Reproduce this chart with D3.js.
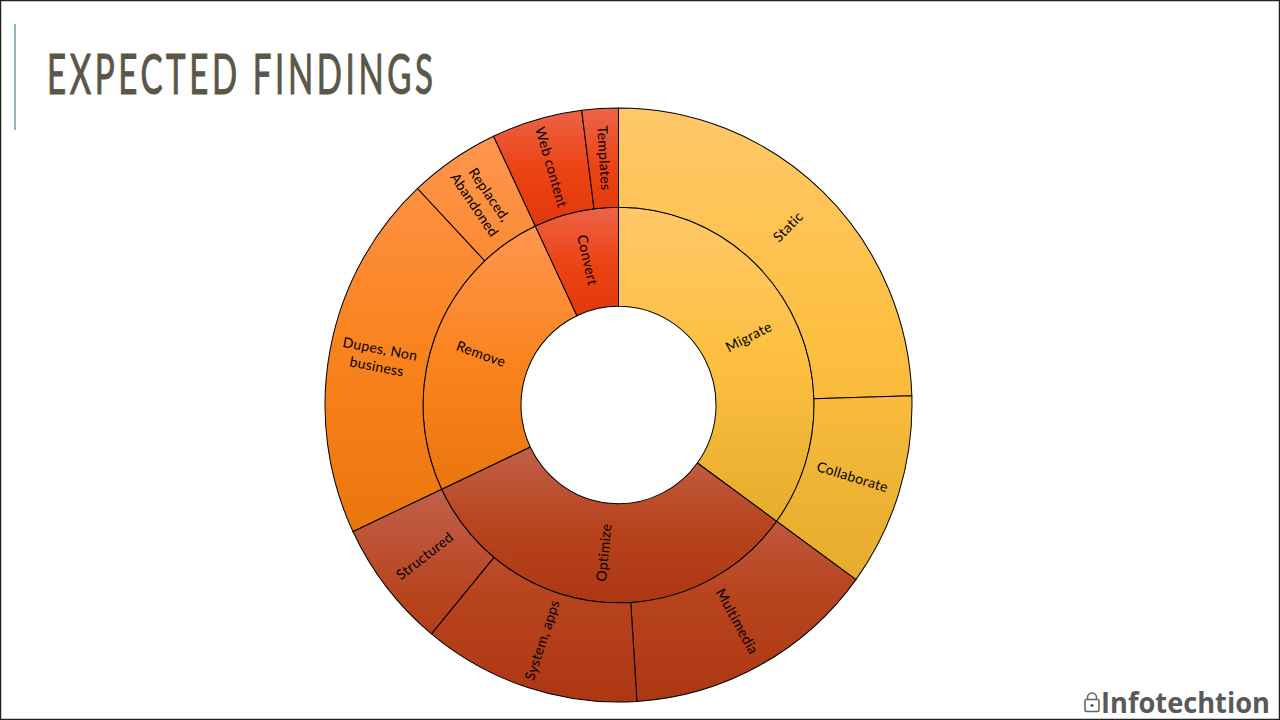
<!DOCTYPE html>
<html><head><meta charset="utf-8">
<script src="https://cdn.jsdelivr.net/npm/d3@7/dist/d3.min.js"></script>
<style>html,body{margin:0;padding:0;background:#fff;overflow:hidden}svg{display:block}</style>
</head><body><svg id="c" width="1280" height="720"></svg>
<script>
const titleText = "EXPECTED FINDINGS";
const brandText = "Infotechtion";
const groups = ["Migrate","Optimize","Remove","Convert"];
const groupPalette = [
  ["#FFC869","#FDBF3F","#E6AC2C"],
  ["#C2604A","#B8441E","#AD3713"],
  ["#FF9550","#FA8420","#EB760D"],
  ["#EC6449","#EC4415","#E2380A"]
];
const leafNames = [
  ["Static","Collaborate"],
  ["Multimedia","System, apps","Structured"],
  ["Dupes, Non\nbusiness","Replaced,\nAbandoned"],
  ["Web content","Templates"]
];
const leafValues = [
  [24.5,10.5],
  [14,12,7],
  [20,5],
  [5,2]
];
const cx=618.5, cy=405, yScale=1.012;
const radii=[97.5,195.5,293.5];

const svg=d3.select("#c");
const defs=svg.append("defs");

const rootData={name:"root",children:groups.map((g,i)=>({name:g,pal:i,children:leafNames[i].map((n,j)=>({name:n,pal:i,value:leafValues[i][j]}))}))};
const root=d3.hierarchy(rootData).sum(d=>d.value||0);
d3.partition().size([2*Math.PI,3])(root);

const rScale=d3.scaleLinear().domain([1,2,3]).range(radii);
const arc=d3.arc().startAngle(d=>d.x0).endAngle(d=>d.x1).innerRadius(d=>rScale(d.y0)).outerRadius(d=>rScale(d.y1));

const nodes=root.descendants().filter(d=>d.depth>0);
const g=svg.append("g").attr("transform",`translate(${cx},${cy}) scale(1,${yScale})`);
const paths=g.selectAll("path").data(nodes).join("path")
  .attr("d",arc).attr("stroke","#000").attr("stroke-width",1);

// one gradient per group and ring, spanning all of that ring's segments
const ext=new Map();
paths.each(function(d){
  const b=this.getBBox(), k=d.data.pal+"-"+d.depth, e=ext.get(k)||[Infinity,-Infinity];
  ext.set(k,[Math.min(e[0],b.y),Math.max(e[1],b.y+b.height)]);
});
ext.forEach((e,k)=>{
  const p=groupPalette[+k.split("-")[0]];
  const lg=defs.append("linearGradient").attr("id","gr"+k).attr("gradientUnits","userSpaceOnUse")
    .attr("x1",0).attr("x2",0).attr("y1",e[0]).attr("y2",e[1]);
  p.forEach((c,i)=>lg.append("stop").attr("offset",i/2).attr("stop-color",c));
});
paths.attr("fill",d=>`url(#gr${d.data.pal}-${d.depth})`);

const labels=svg.append("g").attr("transform",`translate(${cx},${cy})`)
  .attr("font-family","Lato, sans-serif").attr("font-size",14).attr("letter-spacing",0.3).attr("fill","#000").attr("text-anchor","middle");
nodes.forEach(d=>{
  const [x,y]=arc.centroid(d);
  const mid=(d.x0+d.x1)/2*180/Math.PI;
  const rot=mid<180?mid-90:mid+90;
  const lines=d.data.name.split("\n");
  const t=labels.append("text").attr("transform",`translate(${x},${y*yScale}) rotate(${rot})`);
  lines.forEach((l,i)=>t.append("tspan").attr("x",0).attr("y",(i-(lines.length-1)/2)*18+4).text(l));
});

svg.append("rect").attr("x",14).attr("y",24).attr("width",2).attr("height",106).attr("fill","#8DB9BA");
const sx=0.58;
svg.append("text").attr("transform",`translate(47,94) scale(${sx},1)`).attr("font-family","Lato, sans-serif").attr("font-size",57)
  .attr("fill","#5A5648").attr("stroke","#5A5648").attr("stroke-width",1.1)
  .attr("textLength",386/sx).attr("lengthAdjust","spacing").text(titleText);

svg.append("text").attr("x",1101).attr("y",712.5).attr("font-family","'Open Sans', sans-serif").attr("font-weight",700)
  .attr("font-size",29).attr("fill","#595959").attr("textLength",169).attr("lengthAdjust","spacingAndGlyphs").text(brandText);
const lock=svg.append("g").attr("fill","none").attr("stroke","#666").attr("stroke-width",1.6);
lock.append("rect").attr("x",1085).attr("y",699.5).attr("width",14).attr("height",12).attr("rx",1.5);
lock.append("path").attr("d","M1087.5 699.5v-2a4.5 4.5 0 0 1 9 0v2");
svg.append("circle").attr("cx",1092).attr("cy",705.5).attr("r",1.6).attr("fill","#595959");

svg.append("rect").attr("x",.5).attr("y",.5).attr("width",1279).attr("height",719).attr("fill","none").attr("stroke","#222").attr("stroke-width",1.5);
</script></body></html>
